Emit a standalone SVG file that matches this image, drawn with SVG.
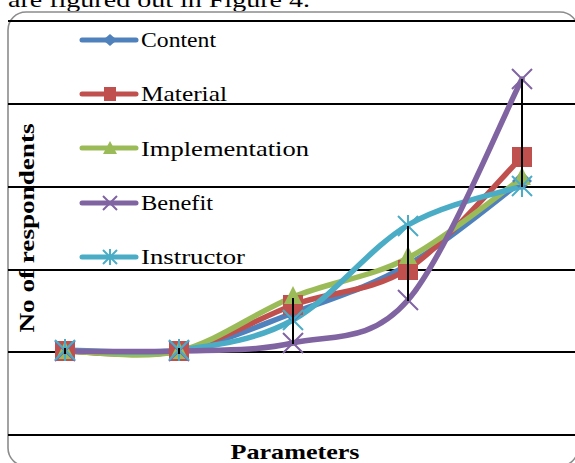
<svg xmlns="http://www.w3.org/2000/svg" xmlns:xlink="http://www.w3.org/1999/xlink" width="575" height="463" viewBox="0 0 575 463">
<style>
.grid{stroke:#000;stroke-width:2;fill:none}
.hilo{stroke:#000;stroke-width:2;fill:none}
.ser{fill:none;stroke-width:5.5;stroke-linecap:round;stroke-linejoin:round}
.leg{stroke-width:5;stroke-linecap:round;fill:none}
.lbl{font-family:"Liberation Serif","Times New Roman",serif;font-size:22px;fill:#000}
.ttl{font-family:"Liberation Serif","Times New Roman",serif;font-size:21px;font-weight:bold;fill:#000}
.c1{stroke:#4F81BD}.c2{stroke:#C0504D}.c3{stroke:#9BBB59}.c4{stroke:#8064A2}.c5{stroke:#4BACC6}
</style>
<defs>
<polygon id="mDia" points="0,-10 10,0 0,10 -10,0" fill="#4F81BD"/>
<rect id="mSq" x="-10" y="-10" width="20" height="20" fill="#C0504D"/>
<polygon id="mTri" points="0,-10 9,8 -9,8" fill="#9BBB59"/>
<path id="mX" d="M-10,-10L10,10M-10,10L10,-10" stroke="#8064A2" stroke-width="2" fill="none"/>
<path id="mAst" d="M-10,-10L10,10M-10,10L10,-10M0,-11V11" stroke="#4BACC6" stroke-width="2" fill="none"/>
<polygon id="lDia" points="0,-6 7,0 0,6 -7,0" fill="#4F81BD"/>
<rect id="lSq" x="-6" y="-7" width="12" height="14" fill="#C0504D"/>
<polygon id="lTri" points="0,-7 7,6 -7,6" fill="#9BBB59"/>
<path id="lX" d="M-7,-7L7,7M-7,7L7,-7" stroke="#8064A2" stroke-width="2" fill="none"/>
<path id="lAst" d="M-7,-7L7,7M-7,7L7,-7M0,-8V8" stroke="#4BACC6" stroke-width="2" fill="none"/>
</defs>
<rect width="575" height="463" fill="#fff"/>
<text id="caption" x="8" y="7" class="lbl" font-size="24" textLength="302" lengthAdjust="spacingAndGlyphs">are figured out in Figure 4.</text>
<g id="frame">
<rect x="8" y="12" width="570" height="454" rx="18" ry="18" fill="none" stroke="#8c8c8c" stroke-width="1.6"/>
</g>
<g id="gridlines">
<line class="grid" x1="8" y1="21" x2="575" y2="21"/>
<line class="grid" x1="8" y1="104" x2="575" y2="104"/>
<line class="grid" x1="8" y1="187" x2="575" y2="187"/>
<line class="grid" x1="8" y1="270" x2="575" y2="270"/>
<line class="grid" x1="8" y1="352" x2="575" y2="352"/>
<line class="grid" x1="8" y1="435" x2="575" y2="435"/>
</g>
<g id="series-content">
<path class="ser c1" d="M65,351 C84,351 141,357.3 179,351 C217,344.7 255,327.3 293,313 C331,298.7 370,287 408,265 C446,243 503,195 522,181"/>
</g>
<g id="series-material">
<path class="ser c2" d="M65,351 C84,351 141,358.5 179,351 C217,343.5 255,319.8 293,305 C331,291 370,292.8 408,269 C446,244 503,175.5 522,157"/>
</g>
<g id="series-implementation">
<path class="ser c3" d="M65,351 C84,351 141,360 179,351 C217,342 255,312.5 293,297 C331,281.5 370,277.8 408,258 C446,238.2 503,191.3 522,178"/>
</g>
<g id="series-instructor">
<path class="ser c5" d="M65,350 C84,350 141,355 179,350 C217,345 255,340.8 293,320 C331,299.2 370,247.3 408,225 C446,202.7 503,192.5 522,186"/>
</g>
<g id="series-benefit">
<path class="ser c4" d="M65,351 C84,351 141,352.3 179,351 C217,349.7 255,351.5 293,343 C331,334.5 370,344 408,300 C446,256 503,115.8 522,79"/>
</g>
<g id="markers">
<use xlink:href="#mDia" x="65" y="351"/><use xlink:href="#mDia" x="179" y="351"/><use xlink:href="#mDia" x="293" y="313"/><use xlink:href="#mDia" x="408" y="265"/><use xlink:href="#mDia" x="522" y="181"/>
<use xlink:href="#mSq" x="65" y="351"/><use xlink:href="#mSq" x="179" y="351"/><use xlink:href="#mSq" x="293" y="305"/><use xlink:href="#mSq" x="408" y="270"/><use xlink:href="#mSq" x="522" y="157"/>
<use xlink:href="#mTri" x="65" y="351"/><use xlink:href="#mTri" x="179" y="351"/><use xlink:href="#mTri" x="293" y="296"/><use xlink:href="#mTri" x="408" y="256"/><use xlink:href="#mTri" x="522" y="177"/>
<use xlink:href="#mX" x="65" y="351"/><use xlink:href="#mX" x="179" y="351"/><use xlink:href="#mX" x="293" y="343"/><use xlink:href="#mX" x="408" y="300"/><use xlink:href="#mX" x="522" y="79"/>
<use xlink:href="#mAst" x="65" y="350"/><use xlink:href="#mAst" x="179" y="350"/><use xlink:href="#mAst" x="293" y="320"/><use xlink:href="#mAst" x="408" y="226"/><use xlink:href="#mAst" x="522" y="186"/>
</g>
<g id="hilo-lines">
<line class="hilo" x1="65" y1="348" x2="65" y2="354"/>
<line class="hilo" x1="179" y1="348" x2="179" y2="354"/>
<line class="hilo" x1="293" y1="298" x2="293" y2="344"/>
<line class="hilo" x1="408" y1="226" x2="408" y2="301"/>
<line class="hilo" x1="522" y1="79" x2="522" y2="187"/>
</g>
<g id="legend">
<g id="leg-content"><line class="leg c1" x1="82" y1="40" x2="136" y2="40"/><use xlink:href="#lDia" x="110" y="40"/><text class="lbl" x="141" y="47" textLength="75" lengthAdjust="spacingAndGlyphs">Content</text></g>
<g id="leg-material"><line class="leg c2" x1="82" y1="94" x2="136" y2="94"/><use xlink:href="#lSq" x="110" y="94"/><text class="lbl" x="141" y="101" textLength="86" lengthAdjust="spacingAndGlyphs">Material</text></g>
<g id="leg-implementation"><line class="leg c3" x1="82" y1="148" x2="136" y2="148"/><use xlink:href="#lTri" x="110" y="148"/><text class="lbl" x="141" y="156" textLength="168" lengthAdjust="spacingAndGlyphs">Implementation</text></g>
<g id="leg-benefit"><line class="leg c4" x1="82" y1="203" x2="136" y2="203"/><use xlink:href="#lX" x="110" y="203"/><text class="lbl" x="141" y="210" textLength="72" lengthAdjust="spacingAndGlyphs">Benefit</text></g>
<g id="leg-instructor"><line class="leg c5" x1="82" y1="257" x2="136" y2="257"/><use xlink:href="#lAst" x="110" y="257"/><text class="lbl" x="141" y="264" textLength="104" lengthAdjust="spacingAndGlyphs">Instructor</text></g>
</g>
<g id="axis-titles">
<text class="ttl" transform="translate(34,228) rotate(-90)" x="0" y="0" text-anchor="middle" textLength="209" lengthAdjust="spacingAndGlyphs">No of respondents</text>
<text class="ttl" x="295" y="459" text-anchor="middle" textLength="129" lengthAdjust="spacingAndGlyphs">Parameters</text>
</g>
</svg>
